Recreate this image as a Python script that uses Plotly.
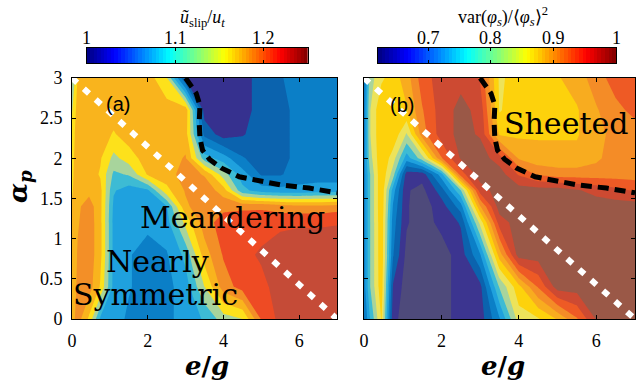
import numpy as np
import plotly.graph_objects as go

# ---------------- data ----------------
EG = [0, 0.15, 0.45, 0.75, 1.1, 1.5, 2.0, 2.5, 3.0, 3.5, 4.0, 4.5, 5.0, 5.5, 6.0, 6.5, 7.0]
ALPHA = [0, 0.4, 0.8, 1.2, 1.4, 1.6, 1.8, 2.0, 2.3, 2.6, 3.0]

# panel (a): u_slip / u_t  (rows follow ALPHA, columns follow EG)
USLIP = [
    [1.170, 1.190, 1.156, 1.096, 1.090, 1.076, 1.070, 1.074, 1.090, 1.102, 1.130, 1.140, 1.202, 1.226, 1.230, 1.230, 1.230],
    [1.166, 1.184, 1.190, 1.158, 1.094, 1.082, 1.070, 1.074, 1.090, 1.140, 1.190, 1.208, 1.216, 1.226, 1.230, 1.230, 1.230],
    [1.162, 1.182, 1.192, 1.166, 1.094, 1.082, 1.070, 1.078, 1.106, 1.170, 1.202, 1.216, 1.222, 1.230, 1.230, 1.230, 1.230],
    [1.162, 1.178, 1.192, 1.166, 1.094, 1.090, 1.086, 1.092, 1.146, 1.190, 1.210, 1.212, 1.214, 1.216, 1.218, 1.218, 1.219],
    [1.162, 1.176, 1.190, 1.166, 1.096, 1.090, 1.090, 1.098, 1.176, 1.194, 1.194, 1.196, 1.196, 1.190, 1.186, 1.186, 1.190],
    [1.158, 1.170, 1.174, 1.166, 1.102, 1.090, 1.096, 1.154, 1.182, 1.194, 1.170, 1.106, 1.090, 1.086, 1.086, 1.090, 1.090],
    [1.156, 1.170, 1.170, 1.158, 1.116, 1.122, 1.162, 1.170, 1.190, 1.178, 1.130, 1.090, 1.058, 1.058, 1.070, 1.070, 1.070],
    [1.154, 1.170, 1.170, 1.162, 1.134, 1.150, 1.170, 1.170, 1.182, 1.110, 1.090, 1.062, 1.050, 1.050, 1.070, 1.070, 1.070],
    [1.150, 1.170, 1.170, 1.170, 1.158, 1.170, 1.170, 1.170, 1.170, 1.054, 1.030, 1.038, 1.050, 1.050, 1.070, 1.070, 1.070],
    [1.138, 1.170, 1.170, 1.170, 1.170, 1.170, 1.170, 1.170, 1.174, 1.030, 1.030, 1.030, 1.050, 1.050, 1.070, 1.070, 1.070],
    [1.118, 1.162, 1.170, 1.170, 1.170, 1.170, 1.170, 1.142, 1.036, 1.030, 1.030, 1.030, 1.050, 1.058, 1.070, 1.070, 1.070],
]

# panel (b): var(phi_s) / <phi_s>^2
VARPHI = [
    [0.7075, 0.7575, 0.8375, 0.6675, 0.6475, 0.6475, 0.6475, 0.6725, 0.6725, 0.7325, 0.8225, 0.8325, 0.8625, 0.9075, 0.9625, 0.9725, 0.9725],
    [0.7225, 0.7825, 0.8525, 0.6825, 0.6475, 0.6475, 0.6475, 0.6725, 0.6775, 0.7875, 0.8525, 0.9125, 0.9725, 0.9725, 0.9725, 0.9725, 0.9725],
    [0.7225, 0.7825, 0.8550, 0.7125, 0.6525, 0.6475, 0.6475, 0.6725, 0.7325, 0.8725, 0.9725, 0.9725, 0.9725, 0.9725, 0.9725, 0.9725, 0.9725],
    [0.7225, 0.7825, 0.8550, 0.7225, 0.6625, 0.6475, 0.6675, 0.6875, 0.8175, 0.9475, 0.9725, 0.9725, 0.9725, 0.9725, 0.9725, 0.9725, 0.9725],
    [0.7225, 0.7825, 0.8575, 0.7325, 0.6625, 0.6475, 0.6725, 0.7225, 0.8825, 0.9725, 0.9725, 0.9725, 0.9725, 0.9725, 0.9725, 0.9725, 0.9725],
    [0.7225, 0.7825, 0.8575, 0.7475, 0.6625, 0.6525, 0.6975, 0.7825, 0.9475, 0.9725, 0.9725, 0.9725, 0.9725, 0.9625, 0.9525, 0.9425, 0.9325],
    [0.7225, 0.7825, 0.8575, 0.7975, 0.6725, 0.6700, 0.7475, 0.9225, 0.9725, 0.9725, 0.9325, 0.9075, 0.8975, 0.8975, 0.8975, 0.8975, 0.8975],
    [0.7225, 0.7975, 0.8575, 0.8225, 0.7475, 0.7975, 0.9075, 0.9625, 0.9725, 0.9475, 0.8825, 0.8675, 0.8675, 0.8675, 0.8800, 0.8975, 0.8975],
    [0.7175, 0.8075, 0.8575, 0.8550, 0.8075, 0.8975, 0.9475, 0.9675, 0.9575, 0.8575, 0.8550, 0.8575, 0.8575, 0.8575, 0.8775, 0.8925, 0.8975],
    [0.7175, 0.8075, 0.8575, 0.8575, 0.8575, 0.9075, 0.9475, 0.9675, 0.9525, 0.8325, 0.8525, 0.8575, 0.8575, 0.8575, 0.8825, 0.9025, 0.9175],
    [0.7075, 0.7975, 0.8300, 0.8475, 0.8725, 0.9225, 0.9475, 0.9525, 0.9325, 0.8300, 0.8475, 0.8575, 0.8575, 0.8725, 0.8975, 0.9225, 0.9325],
]

# regime boundary (black dashed) and diagonal (white dotted)
BOUND_EG = [3.0, 3.28, 3.38, 3.36, 3.38, 3.45, 3.63, 3.94, 4.42, 5.0, 5.5, 6.26, 7.0]
BOUND_ALPHA = [3.0, 2.81, 2.66, 2.45, 2.25, 2.1, 1.99, 1.88, 1.77, 1.72, 1.67, 1.63, 1.57]
DIAG_EG = [0, 7]
DIAG_ALPHA = [3, 0]

XTICKS = [0, 2, 4, 6]
CB_A_TICKS = [1, 1.1, 1.2]
CB_A_LABELS = ["1", "1.1", "1.2"]
CB_B_TICKS = [0.7, 0.8, 0.9, 1.0]
CB_B_LABELS = ["0.7", "0.8", "0.9", "1"]
CB_A_RANGE = [1.0, 1.25]
CB_B_RANGE = [0.62, 1.0]

# ---------------- styles ----------------
PAL_A = ['#36318f', '#0b63ae', '#0b7fc7', '#1fa1de', '#3dbbd4', '#a8d49c',
         '#fde11b', '#f9b41d', '#f38f27', '#ee4b24', '#c54b37']
PAL_B = ['#4e4a7b', '#3c3590', '#0b63ae', '#0b7fc7', '#1fa1de', '#3dbbd4', '#a8d49c',
         '#ede35a', '#fdd20c', '#f8ac1f', '#f48c27', '#ee5a25', '#cd4a32', '#9a5847']
JET = [[0, '#000080'], [0.125, '#0000ff'], [0.375, '#00ffff'],
       [0.625, '#ffff00'], [0.875, '#ff0000'], [1, '#800000']]

SERIF = "Liberation Serif"
W, H = 636, 381


def step_scale(pal):
    n = len(pal) - 1
    return [[i / n, c] for i, c in enumerate(pal)]


fig = go.Figure()

fig.add_trace(go.Contour(
    x=EG, y=ALPHA, z=USLIP, xaxis='x', yaxis='y',
    autocontour=False,
    contours=dict(start=1.04, end=1.225, size=0.02, coloring='fill', showlines=False),
    colorscale=step_scale(PAL_A), showscale=False,
    line=dict(width=0, smoothing=0), hoverinfo='skip'))

fig.add_trace(go.Contour(
    x=EG, y=ALPHA, z=VARPHI, xaxis='x2', yaxis='y2',
    autocontour=False,
    contours=dict(start=0.66, end=0.965, size=0.025, coloring='fill', showlines=False),
    colorscale=step_scale(PAL_B), showscale=False,
    line=dict(width=0, smoothing=0), hoverinfo='skip'))

for xa, ya in [('x', 'y'), ('x2', 'y2')]:
    fig.add_trace(go.Scatter(x=DIAG_EG, y=DIAG_ALPHA, xaxis=xa, yaxis=ya, mode='lines',
                             line=dict(color='white', width=6, dash='7px,9px'),
                             hoverinfo='skip'))
    fig.add_trace(go.Scatter(x=BOUND_EG, y=BOUND_ALPHA, xaxis=xa, yaxis=ya, mode='lines',
                             line=dict(color='black', width=5, dash='11px,6px'),
                             hoverinfo='skip'))

# colour bars (MATLAB jet), drawn as thin heatmaps
for rng, xa, ya in [(CB_A_RANGE, 'x3', 'y3'), (CB_B_RANGE, 'x4', 'y4')]:
    edges = np.linspace(rng[0], rng[1], 65)
    mids = (edges[:-1] + edges[1:]) / 2
    fig.add_trace(go.Heatmap(x=edges, y=[0, 1], z=[mids], xaxis=xa, yaxis=ya,
                             colorscale=JET, zmin=rng[0], zmax=rng[1],
                             showscale=False, hoverinfo='skip'))

Y0, Y1 = 1 - 319 / H, 1 - 78 / H
axis_common = dict(showline=True, linecolor='black', linewidth=1, mirror='ticks',
                   ticks='inside', ticklen=4, tickcolor='black', showgrid=False,
                   zeroline=False, automargin=False,
                   tickfont=dict(family=SERIF, size=18, color='black'))
cb_x = dict(side='top', showline=True, linecolor='black', linewidth=1, mirror='ticks',
            ticks='inside', ticklen=3, tickcolor='black', showgrid=False, zeroline=False,
            automargin=False, showticklabels=False)
cb_y = dict(range=[0, 1], showticklabels=False, ticks='', showline=True, linecolor='black',
            linewidth=1, mirror=True, showgrid=False, zeroline=False, automargin=False)

fig.update_layout(
    template='none',
    width=W, height=H, margin=dict(l=0, r=0, t=0, b=0, pad=0),
    paper_bgcolor='white', plot_bgcolor='white', showlegend=False,
    xaxis=dict(domain=[72 / W, 337 / W], range=[0, 7], tickvals=XTICKS, anchor='y',
               ticklabelstandoff=5, **axis_common),
    yaxis=dict(domain=[Y0, Y1], range=[0, 3], dtick=0.5, anchor='x',
               ticklabelstandoff=5, **axis_common),
    xaxis2=dict(domain=[364 / W, 635 / W], range=[0, 7], tickvals=XTICKS, anchor='y2',
                ticklabelstandoff=5, **axis_common),
    yaxis2=dict(domain=[Y0, Y1], range=[0, 3], dtick=0.5, anchor='x2',
                showticklabels=False, **axis_common),
    xaxis3=dict(domain=[86.7 / W, 308 / W], range=CB_A_RANGE, anchor='y3',
                tickvals=CB_A_TICKS, **cb_x),
    yaxis3=dict(domain=[1 - 63 / H, 1 - 48 / H], anchor='x3', **cb_y),
    xaxis4=dict(domain=[378 / W, 616 / W], range=CB_B_RANGE, anchor='y4',
                tickvals=CB_B_TICKS, **cb_x),
    yaxis4=dict(domain=[1 - 63 / H, 1 - 48 / H], anchor='x4', **cb_y),
)

TXT = dict(family="DejaVu Serif", size=30, color='black')
CBF = dict(family=SERIF, size=18, color='black')
EGF = dict(family='DejaVu Serif', size=26, color='black')
ann = [
    dict(text='(a)', x=1.22, y=2.68, xref='x', yref='y',
         font=dict(family='Liberation Sans', size=20, color='black')),
    dict(text='(b)', x=0.99, y=2.66, xref='x2', yref='y2',
         font=dict(family='Liberation Sans', size=20, color='black')),
    dict(text='Meandering', x=4.24, y=1.26, xref='x', yref='y', font=TXT),
    dict(text='Nearly', x=2.25, y=0.71, xref='x', yref='y', font=TXT),
    dict(text='Symmetric', x=2.21, y=0.30, xref='x', yref='y', font=TXT),
    dict(text='Sheeted', x=5.21, y=2.43, xref='x2', yref='y2', font=TXT),
    dict(text='<b><i>e</i>/<i>g</i></b>', x=207 / W, y=1 - 366 / H, xref='paper', yref='paper',
         font=EGF),
    dict(text='<b><i>e</i>/<i>g</i></b>', x=503 / W, y=1 - 366 / H, xref='paper', yref='paper',
         font=EGF),
    dict(text='<b><i>α<sub>p</sub></i></b>', x=19 / W, y=1 - 187 / H, xref='paper', yref='paper',
         textangle=-90, font=dict(family='DejaVu Serif', size=26, color='black')),
    dict(text='<i>ũ</i><sub>slip</sub>/<i>u</i><sub><i>t</i></sub>', x=202 / W, y=1 - 18 / H,
         xref='paper', yref='paper', font=dict(family=SERIF, size=18, color='black')),
    dict(text='var(<i>φ</i><sub><i>s</i></sub>)/⟨<i>φ</i><sub><i>s</i></sub>⟩<sup>2</sup>',
         x=503 / W, y=1 - 17 / H, xref='paper', yref='paper',
         font=dict(family=SERIF, size=18, color='black')),
]
# colour-bar tick labels placed above the bars
for v, t in zip(CB_A_TICKS, CB_A_LABELS):
    ann.append(dict(text=t, x=v, y=1 - 38 / H, xref='x3', yref='paper', font=CBF))
for v, t in zip(CB_B_TICKS, CB_B_LABELS):
    ann.append(dict(text=t, x=v, y=1 - 38 / H, xref='x4', yref='paper', font=CBF))

for a in ann:
    a.setdefault('showarrow', False)
    a.setdefault('xanchor', 'center')
    a.setdefault('yanchor', 'middle')
fig.update_layout(annotations=ann)

fig.write_html("out.html")
